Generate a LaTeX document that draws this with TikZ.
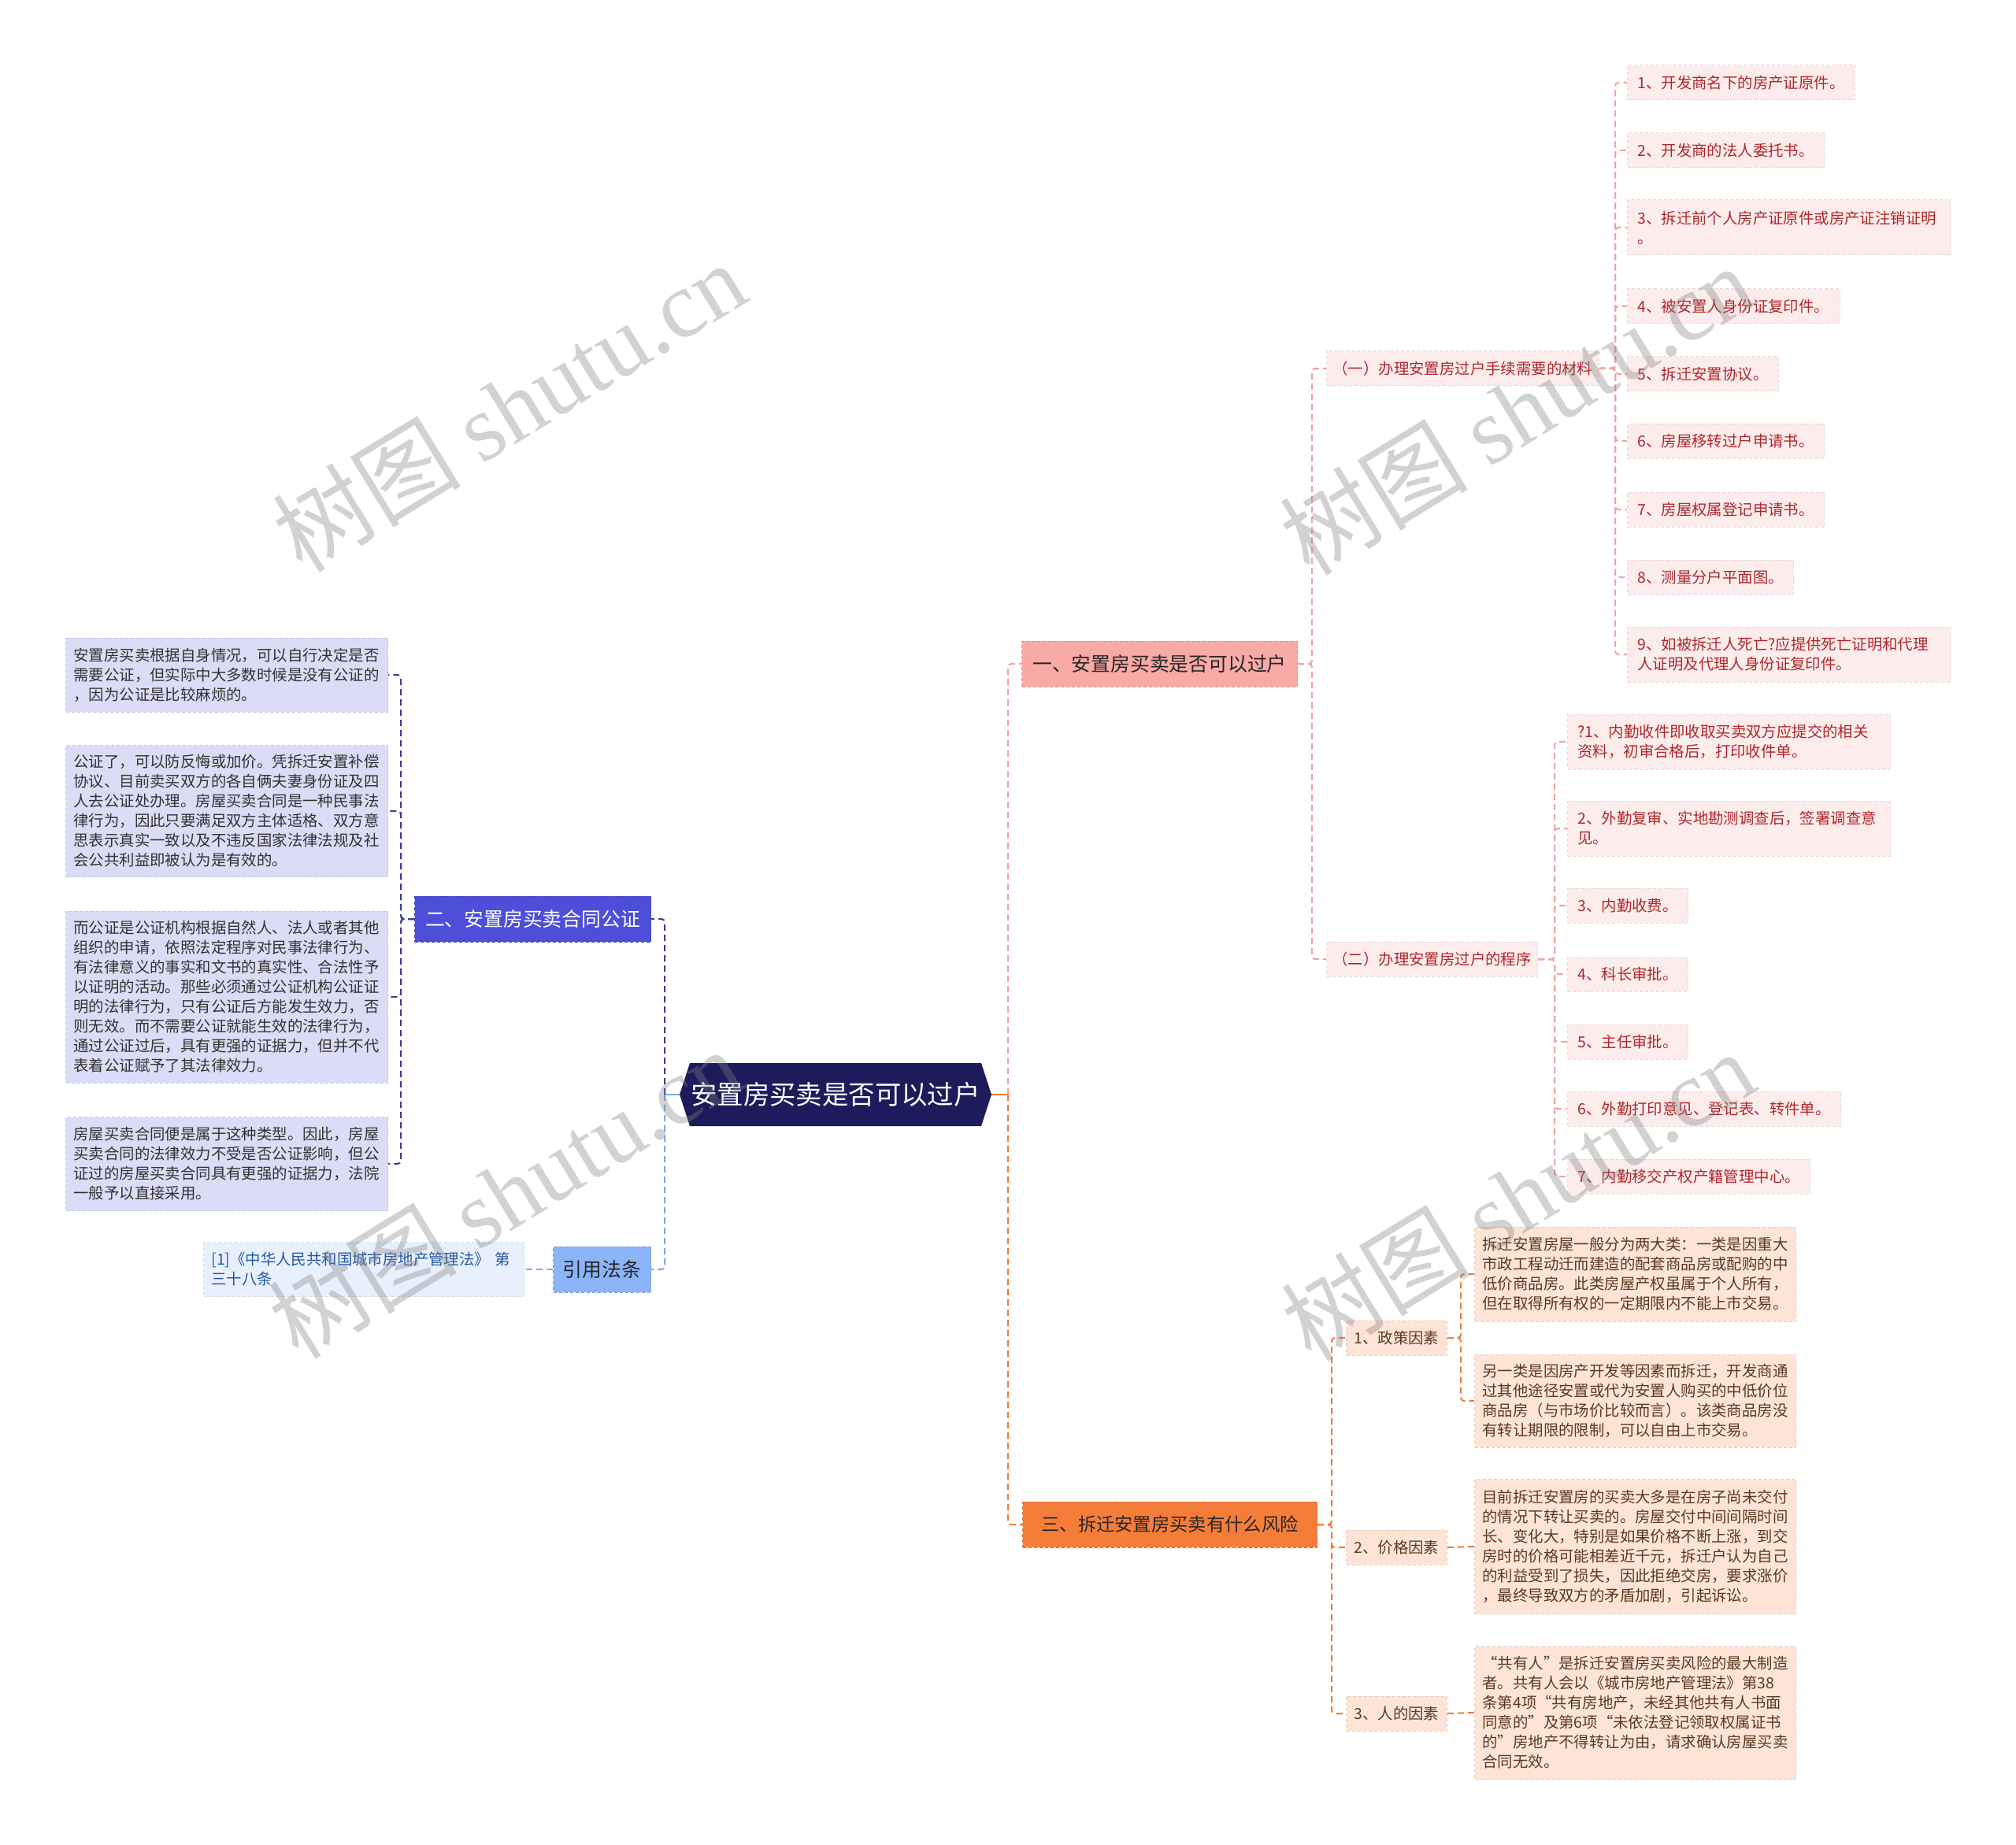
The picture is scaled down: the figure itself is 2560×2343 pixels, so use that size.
\documentclass[tikz,border=0pt]{standalone}
\usepackage{fontspec}
\setmainfont{Noto Sans CJK SC}
\newfontfamily\wmserif{Liberation Serif}
\definecolor{rootc}{HTML}{1E1B5C}
\definecolor{bAfill}{HTML}{F9A9A6}
\definecolor{bAline}{HTML}{EFA3A3}
\definecolor{mfill}{HTML}{FDECEC}
\definecolor{mtext}{HTML}{B0262A}
\definecolor{bCfill}{HTML}{F57D3A}
\definecolor{bCline}{HTML}{EE7A3A}
\definecolor{kfill}{HTML}{FDE4D7}
\definecolor{ktext}{HTML}{5A3A22}
\definecolor{bBfill}{HTML}{4D4ED9}
\definecolor{bBline}{HTML}{3C3C9C}
\definecolor{lfill}{HTML}{DCDCF6}
\definecolor{ltext}{HTML}{333333}
\definecolor{bDfill}{HTML}{8BB5F8}
\definecolor{bDline}{HTML}{7EA8EE}
\definecolor{dfill}{HTML}{E8F0FD}
\definecolor{dtext}{HTML}{2457A6}
\tikzset{
  box/.style={rectangle, anchor=west, inner ysep=0pt, line width=0.5pt, dash pattern=on 2pt off 1.5pt},
  rootnode/.style={rectangle, minimum width=198pt, minimum height=40pt, inner sep=0pt, text=white, font=\fontsize{16.7pt}{20pt}\selectfont},
  lvone/.style={box, minimum height=29pt, font=\fontsize{12.4pt}{15pt}\selectfont},
  lvA/.style={lvone, fill=bAfill, draw=bAfill!88!black, text=black!85},
  lvC/.style={lvone, fill=bCfill, draw=bCfill!88!black, text=black!85, font=\fontsize{11.65pt}{15pt}\selectfont},
  lvB/.style={lvone, fill=bBfill, draw=bBfill!88!black, text=white},
  lvD/.style={lvone, fill=bDfill, draw=bDfill!88!black, text=black!85},
  small/.style={font=\fontsize{9.7pt}{12.5pt}\selectfont},
  subA/.style={box, small, fill=mfill, draw=mfill!92!black, text=mtext, inner xsep=4pt, minimum height=22pt},
  itemA/.style={box, small, fill=mfill, draw=mfill!92!black, text=mtext, inner xsep=6.5pt, minimum height=22pt},
  itemAA/.style={itemA, text width=192pt, align=left, minimum height=35pt},
  kid/.style={box, small, fill=kfill, draw=kfill!90!black, text=ktext, inner xsep=5pt, minimum height=22pt},
  ktxt/.style={box, small, fill=kfill, draw=kfill!90!black, text=ktext, inner xsep=5pt, text width=194pt, align=left},
  ltxt/.style={box, small, fill=lfill, draw=lfill!90!black, text=ltext, inner xsep=5pt, text width=194.5pt, align=left},
  dtxt/.style={box, small, fill=dfill, draw=dfill!92!black, text=dtext, inner xsep=5pt, text width=193.5pt, align=left, minimum height=34.5pt},
  con/.style={line width=1pt, dash pattern=on 4pt off 2.5pt, rounded corners=2pt},
  conA/.style={con, draw=bAline},
  conC/.style={con, draw=bCline},
  conB/.style={con, draw=bBline},
  conD/.style={con, draw=bDline},
  wm/.style={rotate=31.5, text=gray, opacity=0.35, inner sep=0pt, font=\fontsize{60pt}{60pt}\selectfont}
}
\begin{document}
\begin{tikzpicture}[x=0.5pt, y=-0.5pt]
\useasboundingbox (0,0) rectangle (2560,2343);
\fill[white] (0,0) rectangle (2560,2343);

% root
\fill[rootc] (863,1390) -- (876,1350) -- (1246,1350) -- (1259,1390) -- (1246,1430) -- (876,1430) -- cycle;
\node[rootnode] (root) at (1061,1390) {安置房买卖是否可以过户};

% level one
\node[lvA, minimum width=175pt] (bA) at (1297,843) {一、安置房买卖是否可以过户};
\node[lvC, minimum width=187pt] (bC) at (1298,1936) {三、拆迁安置房买卖有什么风险};
\node[lvB, minimum width=150pt] (bB) at (526,1167) {二、安置房买卖合同公证};
\node[lvD, minimum width=62pt] (bD) at (702,1612) {引用法条};

% level two (branch A)
\node[subA] (mA) at (1684,468) {（一）办理安置房过户手续需要的材料};
\node[subA] (pA) at (1684,1218) {（二）办理安置房过户的程序};

% materials
\node[itemA] (m1) at (2066,105) {1、开发商名下的房产证原件。};
\node[itemA] (m2) at (2066,191) {2、开发商的法人委托书。};
\node[itemAA] (m3) at (2066,289) {3、拆迁前个人房产证原件或房产证注销证明\\。};
\node[itemA] (m4) at (2066,389) {4、被安置人身份证复印件。};
\node[itemA] (m5) at (2066,475) {5、拆迁安置协议。};
\node[itemA] (m6) at (2066,560) {6、房屋移转过户申请书。};
\node[itemA] (m7) at (2066,647) {7、房屋权属登记申请书。};
\node[itemA] (m8) at (2066,733) {8、测量分户平面图。};
\node[itemAA] (m9) at (2066,831) {9、如被拆迁人死亡?应提供死亡证明和代理\\人证明及代理人身份证复印件。};

% procedure
\node[itemAA] (p1) at (1990,942) {?1、内勤收件即收取买卖双方应提交的相关\\资料，初审合格后，打印收件单。};
\node[itemAA] (p2) at (1990,1052) {2、外勤复审、实地勘测调查后，签署调查意\\见。};
\node[itemA] (p3) at (1990,1150) {3、内勤收费。};
\node[itemA] (p4) at (1990,1237) {4、科长审批。};
\node[itemA] (p5) at (1990,1323) {5、主任审批。};
\node[itemA] (p6) at (1990,1408) {6、外勤打印意见、登记表、转件单。};
\node[itemA] (p7) at (1990,1494) {7、内勤移交产权产籍管理中心。};

% branch C
\node[kid] (k1) at (1709,1699) {1、政策因素};
\node[kid] (k2) at (1709,1965) {2、价格因素};
\node[kid] (k3) at (1709,2176) {3、人的因素};
\node[ktxt, minimum height=60pt] (c1) at (1872,1618) {拆迁安置房屋一般分为两大类：一类是因重大\\市政工程动迁而建造的配套商品房或配购的中\\低价商品房。此类房屋产权虽属于个人所有，\\但在取得所有权的一定期限内不能上市交易。};
\node[ktxt, minimum height=59pt] (c2) at (1872,1779) {另一类是因房产开发等因素而拆迁，开发商通\\过其他途径安置或代为安置人购买的中低价位\\商品房（与市场价比较而言）。该类商品房没\\有转让期限的限制，可以自由上市交易。};
\node[ktxt, minimum height=85.5pt] (c3) at (1872,1964) {目前拆迁安置房的买卖大多是在房子尚未交付\\的情况下转让买卖的。房屋交付中间间隔时间\\长、变化大，特别是如果价格不断上涨，到交\\房时的价格可能相差近千元，拆迁户认为自己\\的利益受到了损失，因此拒绝交房，要求涨价\\，最终导致双方的矛盾加剧，引起诉讼。};
\node[ktxt, minimum height=84.5pt] (c4) at (1872,2175) {“共有人”是拆迁安置房买卖风险的最大制造\\者。共有人会以《城市房地产管理法》第38\\条第4项“共有房地产，未经其他共有人书面\\同意的”及第6项“未依法登记领取权属证书\\的”房地产不得转让为由，请求确认房屋买卖\\合同无效。};

% branch B
\node[ltxt, minimum height=47pt] (l1) at (83,857) {安置房买卖根据自身情况，可以自行决定是否\\需要公证，但实际中大多数时候是没有公证的\\，因为公证是比较麻烦的。};
\node[ltxt, minimum height=83.5pt] (l2) at (83,1030) {公证了，可以防反悔或加价。凭拆迁安置补偿\\协议、目前卖买双方的各自俩夫妻身份证及四\\人去公证处办理。房屋买卖合同是一种民事法\\律行为，因此只要满足双方主体适格、双方意\\思表示真实一致以及不违反国家法律法规及社\\会公共利益即被认为是有效的。};
\node[ltxt, minimum height=109pt] (l3) at (83,1266) {而公证是公证机构根据自然人、法人或者其他\\组织的申请，依照法定程序对民事法律行为、\\有法律意义的事实和文书的真实性、合法性予\\以证明的活动。那些必须通过公证机构公证证\\明的法律行为，只有公证后方能发生效力，否\\则无效。而不需要公证就能生效的法律行为，\\通过公证过后，具有更强的证据力，但并不代\\表着公证赋予了其法律效力。};
\node[ltxt, minimum height=59.5pt] (l4) at (83,1478) {房屋买卖合同便是属于这种类型。因此，房屋\\买卖合同的法律效力不受是否公证影响，但公\\证过的房屋买卖合同具有更强的证据力，法院\\一般予以直接采用。};

% branch D
\node[dtxt] (d1) at (258,1612) {[1]《中华人民共和国城市房地产管理法》 第\\三十八条};

% junctions
\coordinate (jR) at (1280,1390);
\coordinate (jL) at (844,1390);
\coordinate (jA) at (1666,843);
\coordinate (jM) at (2051,468);
\coordinate (jP) at (1974,1218);
\coordinate (jC) at (1691,1936);
\coordinate (jK) at (1855,1699);
\coordinate (jB) at (509,1167);

% connectors
\draw[bCline, line width=1.3pt] (root.east) -- (jR);
\draw[conA] (jR) |- (bA.west);
\draw[conC] (jR) |- (bC.west);
\draw[bDline, line width=1.3pt] (root.west) -- (jL);
\draw[conB] (jL) |- (bB.east);
\draw[conD] (jL) |- (bD.east);

\draw[conA] (bA.east) -- (jA) |- (mA.west);
\draw[conA] (bA.east) -- (jA) |- (pA.west);
\foreach \i in {1,...,9} \draw[conA] (mA.east) -- (jM) |- (m\i.west);
\foreach \i in {1,...,7} \draw[conA] (pA.east) -- (jP) |- (p\i.west);

\foreach \i in {1,2,3} \draw[conC] (bC.east) -- (jC) |- (k\i.west);
\draw[conC] (k1.east) -- (jK) |- (c1.west);
\draw[conC] (k1.east) -- (jK) |- (c2.west);
\draw[conC] (k2.east) -- (c3.west);
\draw[conC] (k3.east) -- (c4.west);

\foreach \i in {1,...,4} \draw[conB] (bB.west) -- (jB) |- (l\i.east);
\draw[conD] (bD.west) -- (d1.east);

% watermarks
\node[wm] (wm1) at (646,516) {树图 {\wmserif shutu.cn}};
\node[wm] (wm2) at (1925,520) {树图 {\wmserif shutu.cn}};
\node[wm] (wm3) at (641,1515) {树图 {\wmserif shutu.cn}};
\node[wm] (wm4) at (1927,1518) {树图 {\wmserif shutu.cn}};
\end{tikzpicture}
\end{document}
